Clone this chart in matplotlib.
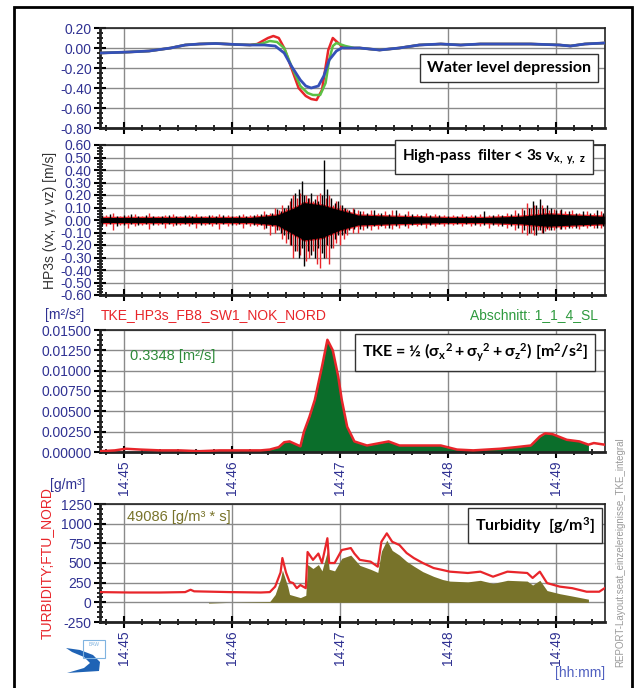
import matplotlib
matplotlib.use("Agg")
import matplotlib.pyplot as plt
from matplotlib.patches import Rectangle, Polygon
from matplotlib.ticker import MultipleLocator, FixedLocator
import numpy as np

plt.rcParams['font.family'] = ['Liberation Sans', 'DejaVu Sans']
plt.rcParams['mathtext.fontset'] = 'custom'
plt.rcParams['mathtext.rm'] = 'Lato:bold'
plt.rcParams['mathtext.it'] = 'Lato:bold'
plt.rcParams['mathtext.bf'] = 'Lato:bold'

# time axis: seconds after 14:45:00
x_ticks = [0, 60, 120, 180, 240]
x_labels = ["14:45", "14:46", "14:47", "14:48", "14:49"]

# --- water level depression [m] ---
t_wl_pre = [-13, 3, 14, 26, 34, 42, 51, 62, 70]
v_wl_pre = [-0.05, -0.04, -0.03, 0.0, 0.03, 0.04, 0.045, 0.035, 0.03]
t_wl_post = [131, 142, 153, 164, 176, 187, 198, 209, 226, 242, 248, 256, 267]
v_wl_post = [0.0, -0.02, 0.0, 0.03, 0.04, 0.03, 0.04, 0.04, 0.04, 0.03, 0.02, 0.04, 0.05]
t_blue = [78, 84, 89, 93, 98, 101, 104, 108, 111, 114, 118, 121]
v_blue = [0.03, 0.02, -0.05, -0.18, -0.32, -0.38, -0.40, -0.38, -0.28, -0.12, -0.03, 0.0]
t_red = [74, 77, 80, 83, 86, 89, 93, 97, 101, 104, 107, 110, 112, 113.5, 116, 119, 122]
v_red = [0.04, 0.07, 0.10, 0.12, 0.10, 0.0, -0.20, -0.40, -0.48, -0.51, -0.52, -0.42, -0.19, -0.02, 0.10, 0.05, 0.0]
t_green = [76, 81, 85, 89, 93, 98, 102, 105, 109, 112, 114, 116, 118, 123, 128]
v_green = [0.04, 0.07, 0.06, 0.0, -0.18, -0.38, -0.45, -0.47, -0.47, -0.35, -0.12, 0.02, 0.05, 0.02, 0.0]

# --- high-pass velocities [m/s] ---
# dense core band
t_core = [-13, 70, 85, 95, 100, 110, 120, 130, 150, 180, 200, 220, 235, 250, 267]
core_hi = [.02, .02, .04, .10, .14, .12, .08, .04, .03, .02, .02, .03, .05, .04, .03]
core_lo = [-.02, -.02, -.04, -.12, -.16, -.14, -.08, -.04, -.03, -.02, -.02, -.03, -.05, -.04, -.03]
# black excursions (time, low, high)
t_blk = [-12, -8, -4, 0, 4, 8, 12, 16, 21, 25,
         29, 34, 38, 43, 47, 51, 55, 60, 64, 68,
         72, 76, 79, 82, 85, 87, 89, 91, 93, 95,
         97, 99, 100, 102, 104, 106, 108, 110, 111, 113,
         115, 117, 119, 121, 123, 125, 128, 131, 135, 139,
         143, 147, 151, 156, 160, 165, 170, 175, 180, 185,
         190, 195, 200, 205, 210, 215, 219, 222, 225, 227,
         229, 231, 233, 235, 237, 240, 243, 247, 251, 255,
         259, 263, 266]
blk_hi = [.04, .05, .03, .04, .05, .03, .04, .03, .03, .04,
          .03, .04, .03, .03, .04, .03, .04, .03, .04, .03,
          .04, .05, .05, .06, .09, .07, .10, .12, .18, .22,
          .25, .31, .20, .18, .22, .17, .15, .20, .48, .25,
          .18, .14, .15, .12, .10, .08, .09, .07, .06, .08,
          .06, .05, .08, .05, .05, .04, .04, .04, .03, .03,
          .03, .04, .07, .04, .04, .05, .06, .08, .10, .15,
          .12, .17, .10, .12, .10, .08, .09, .07, .06, .07,
          .06, .08, .06]
blk_lo = [-.04, -.03, -.05, -.04, -.03, -.04, -.03, -.04, -.03, -.03,
          -.04, -.03, -.03, -.04, -.03, -.03, -.03, -.04, -.03, -.03,
          -.04, -.04, -.06, -.05, -.08, -.10, -.12, -.15, -.20, -.25,
          -.30, -.22, -.37, -.25, -.28, -.30, -.22, -.26, -.30, -.20,
          -.22, -.15, -.12, -.12, -.10, -.08, -.07, -.07, -.06, -.05,
          -.05, -.06, -.05, -.05, -.04, -.04, -.04, -.03, -.03, -.03,
          -.03, -.04, -.04, -.04, -.05, -.05, -.06, -.08, -.10, -.08,
          -.12, -.08, -.10, -.07, -.08, -.06, -.07, -.06, -.06, -.05,
          -.05, -.06, -.05]
# red excursions (time, low, high)
t_rd = [-10, -6, -2, 2, 6, 10, 14, 19, 23, 27,
        31, 36, 40, 45, 49, 53, 58, 62, 66, 70,
        74, 78, 81, 84, 86, 88, 90, 92, 94, 96,
        98, 101, 103, 105, 107, 109, 112, 114, 116, 118,
        120, 122, 124, 127, 130, 133, 137, 141, 145, 149,
        153, 158, 163, 168, 173, 178, 183, 188, 193, 198,
        203, 208, 213, 217, 221, 224, 226, 228, 230, 232,
        234, 236, 239, 242, 245, 249, 253, 257, 261, 265]
rd_hi = [.04, .06, .03, .04, .05, .03, .06, .03, .04, .05,
         .03, .04, .05, .03, .04, .05, .04, .03, .05, .04,
         .05, .07, .06, .10, .08, .12, .10, .15, .20, .18,
         .22, .20, .18, .15, .20, .22, .18, .20, .12, .15,
         .12, .10, .09, .10, .08, .07, .08, .06, .07, .08,
         .06, .07, .05, .06, .05, .04, .04, .05, .04, .05,
         .04, .05, .06, .08, .10, .14, .10, .12, .09, .12,
         .10, .08, .09, .08, .07, .08, .06, .07, .06, .07]
rd_lo = [-.05, -.08, -.04, -.06, -.05, -.04, -.07, -.04, -.06, -.05,
         -.04, -.05, -.06, -.04, -.05, -.07, -.05, -.04, -.06, -.05,
         -.05, -.07, -.12, -.10, -.08, -.15, -.18, -.20, -.30, -.25,
         -.28, -.33, -.30, -.25, -.35, -.38, -.30, -.35, -.22, -.18,
         -.20, -.15, -.12, -.10, -.10, -.08, -.08, -.07, -.06, -.07,
         -.06, -.06, -.05, -.06, -.05, -.05, -.04, -.05, -.05, -.05,
         -.06, -.05, -.06, -.08, -.10, -.12, -.10, -.12, -.08, -.10,
         -.09, -.08, -.08, -.07, -.07, -.06, -.07, -.06, -.06, -.06]

# --- TKE [m2/s2] ---
t_tke = [-13, -5, 1, 9, 20, 31, 42, 53, 64, 76, 81, 86, 89, 92, 96, 98, 100, 103, 106, 110, 113, 116,
         119, 121, 124, 128, 135, 147, 153, 161, 176, 185, 194, 209, 218, 226, 231, 234, 238, 246, 253,
         258, 261, 267]
v_tke = [0.0001, 0.0002, 0.0004, 0.0003, 0.0002, 0.0002, 0.0001, 0.0002, 0.0002, 0.0002, 0.0003, 0.0006,
         0.0012, 0.0013, 0.0009, 0.0007, 0.0025, 0.0043, 0.0064, 0.0105, 0.0138, 0.0125, 0.0093, 0.0064,
         0.0031, 0.0013, 0.0008, 0.0013, 0.0008, 0.0008, 0.0008, 0.0003, 0.0002, 0.0004, 0.0006, 0.0008,
         0.0019, 0.0023, 0.0022, 0.0015, 0.0013, 0.0009, 0.0011, 0.0009]
tke_fill_start, tke_fill_end = 59, 258

# --- turbidity [g/m3] ---
t_turb = [-13, 3, 20, 34, 37, 39, 59, 76, 81, 84, 87, 88, 90, 92, 94, 96, 98, 101, 102, 105, 108, 110,
          113, 114, 117, 121, 126, 128, 131, 137, 141, 143, 146, 149, 153, 157, 161, 166, 172, 177, 181,
          191, 198, 205, 213, 224, 227, 231, 235, 242, 249, 257, 264, 267]
v_turb = [130, 125, 125, 130, 160, 140, 130, 125, 130, 200, 380, 563, 380, 260, 245, 180, 220, 180, 640,
          540, 620, 500, 815, 500, 500, 665, 690, 620, 540, 517, 453, 770, 877, 770, 729, 627, 563, 500,
          436, 411, 390, 373, 390, 326, 390, 373, 310, 390, 245, 200, 180, 135, 135, 180]
t_olive = [47, 59, 81, 84, 87, 88, 91, 92, 98, 101, 102, 105, 108, 110, 113, 114, 117, 121, 126, 131,
           137, 141, 143, 146, 149, 153, 157, 161, 166, 172, 177, 181, 191, 198, 205, 213, 224, 227, 231,
           235, 242, 249, 258]
v_olive = [-10, 0, 10, 100, 300, 410, 200, 100, 60, 90, 480, 430, 480, 400, 650, 420, 400, 560, 600, 470,
           420, 380, 650, 790, 660, 600, 520, 460, 390, 330, 290, 270, 260, 280, 240, 280, 270, 220, 280,
           150, 110, 80, 40]

W, H = 637, 688
fig = plt.figure(figsize=(W / 100, H / 100), dpi=100)

navy = "#2f3192"
red = "#e8252a"


def ax_at(left, top, right, bottom):
    return fig.add_axes([left / W, 1 - bottom / H, (right - left) / W, (bottom - top) / H])


def style(ax, ylo, yhi, ystep, yminor, fmt, labels):
    ax.set_xlim(-13.3, 267.2)
    ax.set_ylim(ylo, yhi)
    ax.xaxis.set_major_locator(FixedLocator(x_ticks))
    ax.xaxis.set_minor_locator(MultipleLocator(10))
    ax.yaxis.set_major_locator(MultipleLocator(ystep))
    ax.yaxis.set_minor_locator(MultipleLocator(yminor))
    ax.grid(True, which='major', color='#8a8a8a', lw=1.0)
    ax.set_axisbelow(True)
    for s in ax.spines.values():
        s.set_linewidth(1.2)
        s.set_color('#222222')
    ax.spines['left'].set_linewidth(2)
    ax.spines['bottom'].set_linewidth(2)
    ax.tick_params(which='major', direction='inout', length=8, width=1.5, colors='black',
                   labelcolor=navy, labelsize=10, pad=2)
    ax.tick_params(which='minor', direction='inout', length=5, width=1.2)
    ax.tick_params(axis='x', which='both', top=False)
    ax.tick_params(axis='y', which='both', right=False)
    ax.yaxis.set_major_formatter(plt.FuncFormatter(lambda v, p: fmt.format(v)))
    if labels:
        ax.set_xticklabels(x_labels, rotation=90)
    else:
        ax.set_xticklabels([])


def box(ax, x, y, txt, size=11.5):
    ax.text(x, y, txt, transform=ax.transAxes, ha='center', va='center', fontsize=size,
            family='Lato', weight='bold', color='black', zorder=6,
            bbox=dict(boxstyle='square,pad=0.45', fc='white', ec='#333333', lw=1))


# panel 1: water level
ax1 = ax_at(100, 28, 605, 128)
style(ax1, -0.8, 0.2, 0.2, 0.05, "{:.2f}", False)
ax1.plot(t_wl_pre + t_red + t_wl_post, v_wl_pre + v_red + v_wl_post, color=red, lw=1.8, zorder=3)
ax1.plot(t_wl_pre + t_green + t_wl_post, v_wl_pre + v_green + v_wl_post, color="#5cc043", lw=1.8, zorder=3)
ax1.plot(t_wl_pre + t_blue + t_wl_post, v_wl_pre + v_blue + v_wl_post, color="#3550b8", lw=2, zorder=4)
box(ax1, 0.81, 0.60, "Water level depression")

# panel 2: high-pass velocities
ax2 = ax_at(100, 145, 605, 295)
style(ax2, -0.6, 0.6, 0.1, 0.025, "{:.2f}", False)
ax2.fill_between(t_core, [v - 0.01 for v in core_lo], [v + 0.01 for v in core_hi], color=red, lw=0, zorder=2)
ax2.vlines(t_rd, rd_lo, rd_hi, color=red, lw=1.0, zorder=2)
ax2.fill_between(t_core, core_lo, core_hi, color='black', lw=0, zorder=3)
ax2.vlines(t_blk, blk_lo, blk_hi, color='black', lw=1.0, zorder=3)
ax2.set_ylabel("HP3s (vx, vy, vz) [m/s]", fontsize=10, color='#333333', labelpad=2)
box(ax2, 0.78, 0.92, r"High-pass  filter < 3s v$_{x,\ y,\ z}$", size=11)

# panel 3: TKE
ax3 = ax_at(100, 330, 605, 452)
style(ax3, 0, 0.015, 0.0025, 0.000625, "{:.5f}", True)
t_arr = np.array(t_tke, dtype=float)
ax3.fill_between(t_tke, 0, v_tke, where=(t_arr >= tke_fill_start) & (t_arr <= tke_fill_end),
                 color="#0b6e2b", lw=0, zorder=2, interpolate=True)
ax3.plot(t_tke, v_tke, color=red, lw=1.8, zorder=3)
ax3.text(0.06, 0.79, "0.3348 [m²/s]", transform=ax3.transAxes, color="#2e8b3a", fontsize=10.5,
         va='center', zorder=5)
box(ax3, 0.743, 0.815, r"TKE = ½ ($\sigma_x{}^2 + \sigma_y{}^2 + \sigma_z{}^2$) [m$^2$/s$^2$]")

# panel 4: turbidity
ax4 = ax_at(100, 504, 605, 622)
style(ax4, -250, 1250, 250, 62.5, "{:.0f}", True)
ax4.fill_between(t_olive, 0, v_olive, color="#78732a", lw=0, zorder=2)
ax4.plot(t_turb, v_turb, color=red, lw=1.6, zorder=3)
ax4.text(0.053, 0.89, "49086 [g/m³ * s]", transform=ax4.transAxes, color="#78732a", fontsize=10.5,
         va='center', zorder=5)
box(ax4, 0.861, 0.818, "Turbidity  [g/m$^3$]")
ax4.set_ylabel("TURBIDITY;FTU_NORD", fontsize=10, color=red, labelpad=5)

# texts around the panels
fig.text(45 / W, 1 - 315 / H, "[m²/s²]", color=navy, fontsize=10, va='center')
fig.text(101 / W, 1 - 315 / H, "TKE_HP3s_FB8_SW1_NOK_NORD", color=red, fontsize=10, va='center')
fig.text(598 / W, 1 - 315 / H, "Abschnitt: 1_1_4_SL", color="#2e9a3e", fontsize=10, va='center', ha='right')
fig.text(50 / W, 1 - 485 / H, "[g/m³]", color=navy, fontsize=10, va='center')
fig.text(605 / W, 1 - 673 / H, "[hh:mm]", color="#5060c0", fontsize=10, va='center', ha='right')
fig.text(620 / W, 1 - 552 / H, "REPORT-Layout:seat_einzelereignisse_TKE_integral", color='#9a9a9a',
         fontsize=7, rotation=90, va='center', ha='center')


def fp(pts):
    return [(x / W, 1 - y / H) for x, y in pts]


# small BAW logo
fig.patches.append(Polygon(fp([(66, 648), (80, 650), (93, 655), (100, 662), (99, 671), (67, 673),
                               (84, 668), (90, 663), (84, 657), (72, 652)]),
                           closed=True, fc="#1f63b5", ec='none', transform=fig.transFigure))
fig.patches.append(Rectangle((83 / W, 1 - 658 / H), 22 / W, 18 / H, fill=False, ec="#7fb3e0", lw=0.8,
                             transform=fig.transFigure))
fig.text(94 / W, 1 - 645 / H, "BAW", color="#7fb3e0", fontsize=3.5, ha='center', va='center')

# outer frame
fig.patches.append(Rectangle((14 / W, 1 - 695 / H), 618 / W, 688 / H, fill=False, ec='black', lw=2,
                             transform=fig.transFigure))

fig.savefig("out.png", dpi=100)
